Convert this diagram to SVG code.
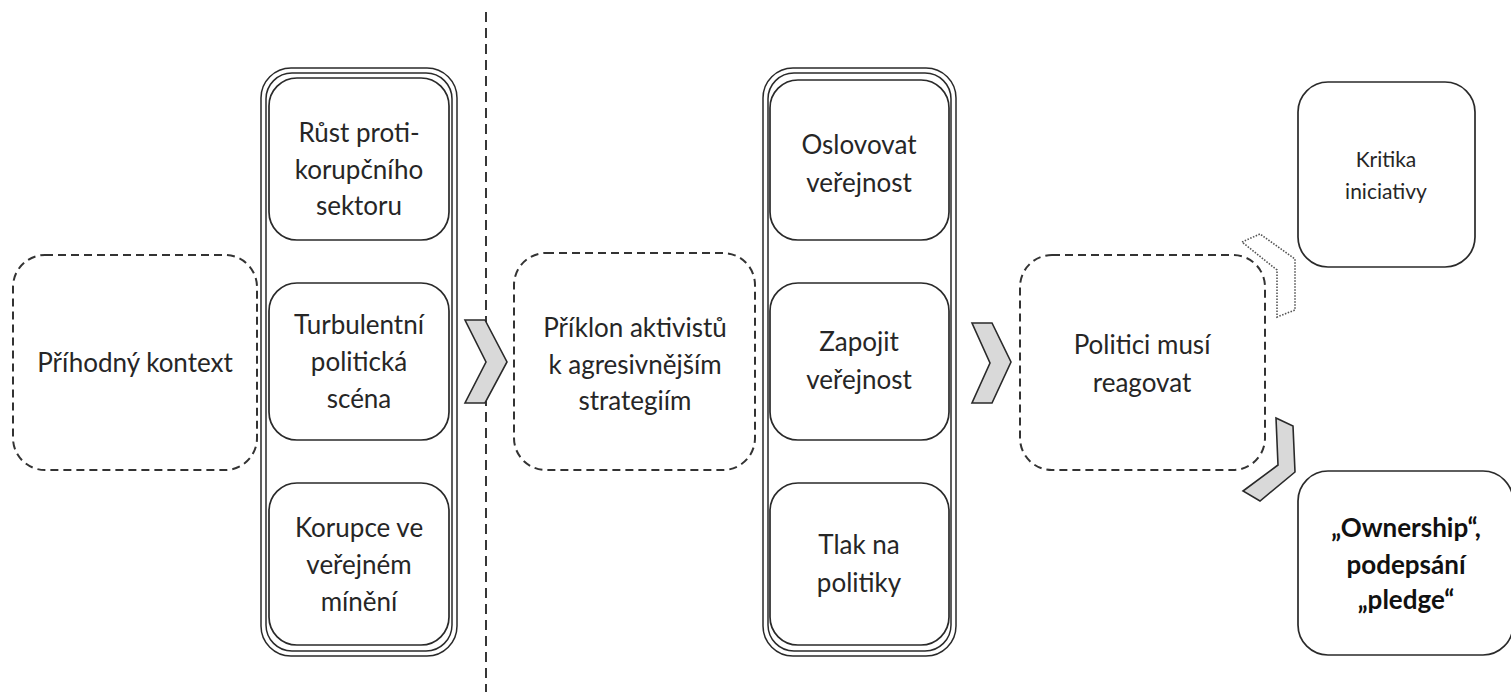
<svg xmlns="http://www.w3.org/2000/svg" width="1511" height="700" viewBox="0 0 1511 700">
<style>
  text { font-family: Lato, "Open Sans", "Liberation Sans", sans-serif; font-size: 26px; fill: #262626; text-anchor: middle; }
  .small { font-size: 21px; }
  .bold { font-weight: bold; fill: #111; }
  .box { fill: #fff; stroke: #2a2a2a; stroke-width: 1.7; }
  .frame { fill: #fff; stroke: #2a2a2a; stroke-width: 1.5; }
  .dash { fill: #fff; stroke: #333; stroke-width: 2; stroke-dasharray: 8 5; }
  .chev { fill: #d9d9d9; stroke: #2a2a2a; stroke-width: 1.6; stroke-linejoin: miter; }
  .chevdot { fill: #fff; stroke: #555; stroke-width: 1.6; stroke-dasharray: 1.5 1.5; }
  .sep { stroke: #222; stroke-width: 1.8; stroke-dasharray: 10 6; fill: none; }
</style>

<g id="separator">
  <line class="sep" x1="486" y1="12" x2="486" y2="692"/>
</g>

<g id="n-prihodny">
  <rect class="dash" x="13" y="255" width="244" height="215" rx="32"/>
  <text x="135" y="372">Příhodný kontext</text>
</g>

<g id="c-left">
  <rect class="frame" x="261" y="68" width="196" height="588" rx="30"/>
  <rect class="frame" x="266" y="73" width="186" height="578" rx="26"/>
</g>
<g id="n-rust">
  <rect class="box" x="269" y="78" width="180" height="162" rx="28"/>
  <text x="359" y="142">Růst proti-</text>
  <text x="359" y="179">korupčního</text>
  <text x="359" y="215">sektoru</text>
</g>
<g id="n-turbulentni">
  <rect class="box" x="269" y="283" width="180" height="157" rx="28"/>
  <text x="359" y="334">Turbulentní</text>
  <text x="359" y="371">politická</text>
  <text x="359" y="408">scéna</text>
</g>
<g id="n-korupce">
  <rect class="box" x="269" y="483" width="180" height="162" rx="28"/>
  <text x="359" y="537">Korupce ve</text>
  <text x="359" y="574">veřejném</text>
  <text x="359" y="611">mínění</text>
</g>

<g id="n-priklon">
  <rect class="dash" x="514" y="253" width="241" height="217" rx="32"/>
  <text x="635" y="337">Příklon aktivistů</text>
  <text x="635" y="374">k agresivnějším</text>
  <text x="635" y="410">strategiím</text>
</g>

<g id="c-middle">
  <rect class="frame" x="763" y="68" width="193" height="588" rx="30"/>
  <rect class="frame" x="768" y="73" width="183" height="578" rx="26"/>
</g>
<g id="n-oslovovat">
  <rect class="box" x="770" y="80" width="179" height="160" rx="28"/>
  <text x="859" y="154">Oslovovat</text>
  <text x="859" y="192">veřejnost</text>
</g>
<g id="n-zapojit">
  <rect class="box" x="770" y="283" width="179" height="157" rx="28"/>
  <text x="859" y="351">Zapojit</text>
  <text x="859" y="389">veřejnost</text>
</g>
<g id="n-tlak">
  <rect class="box" x="770" y="483" width="179" height="162" rx="28"/>
  <text x="859" y="554">Tlak na</text>
  <text x="859" y="592">politiky</text>
</g>

<g id="n-politici">
  <rect class="dash" x="1020" y="255" width="245" height="215" rx="32"/>
  <text x="1142" y="354">Politici musí</text>
  <text x="1142" y="392">reagovat</text>
</g>

<g id="n-kritika">
  <rect class="box" x="1298" y="82" width="177" height="185" rx="30"/>
  <text class="small" x="1386" y="167">Kritika</text>
  <text class="small" x="1386" y="199">iniciativy</text>
</g>

<g id="n-ownership">
  <rect class="box" x="1298" y="471" width="215" height="184" rx="30"/>
  <text class="bold" x="1406" y="537">„Ownership“,</text>
  <text class="bold" x="1406" y="574">podepsání</text>
  <text class="bold" x="1406" y="609">„pledge“</text>
</g>

<g id="connectors">
  <polygon class="chev" points="465,320 485,320 507,362 485,403 465,403 486,362"/>
  <polygon class="chev" points="972,323 992,323 1011,362 992,403 972,403 990,363"/>
  <polygon class="chevdot" points="1242,242 1260,234 1295,259 1295,310 1277,317 1277,270"/>
  <polygon class="chev" points="1276,418 1293,426 1295,472 1260,501 1243,491 1278,465"/>
</g>
</svg>
